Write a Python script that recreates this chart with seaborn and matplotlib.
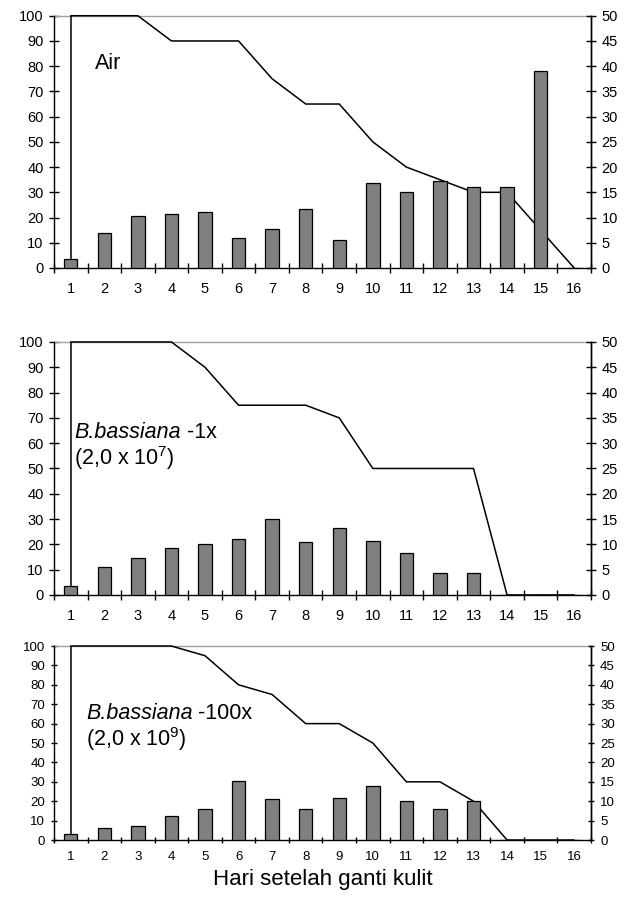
import matplotlib

matplotlib.use("Agg")
import matplotlib.pyplot as plt
import numpy as np
import seaborn as sns
from matplotlib.ticker import FixedLocator, NullFormatter

sns.set_style("white")
plt.rcParams["font.family"] = ["Liberation Sans", "DejaVu Sans"]
plt.rcParams["mathtext.fontset"] = "custom"
plt.rcParams["mathtext.rm"] = "Liberation Sans"
plt.rcParams["mathtext.it"] = "Liberation Sans:italic"
for key in ("text.color", "axes.labelcolor", "xtick.color", "ytick.color"):
    plt.rcParams[key] = "black"

days = list(range(1, 17))

# survival line (left axis, %)
survival_air = [100, 100, 100, 90, 90, 90, 75, 65, 65, 50, 40, 35, 30, 30, 15, 0]
survival_1x = [100, 100, 100, 100, 90, 75, 75, 75, 70, 50, 50, 50, 50, 0, 0, 0]
survival_100x = [100, 100, 100, 100, 95, 80, 75, 60, 60, 50, 30, 30, 20, 0, 0, 0]

# daily counts (right axis)
counts_air = [1.75, 7, 10.25, 10.75, 11, 6, 7.75, 11.75, 5.5, 16.75, 15, 17.25, 16, 16, 39, 0]
counts_1x = [1.75, 5.5, 7.25, 9.25, 10, 11, 15, 10.5, 13.25, 10.75, 8.25, 4.25, 4.25, 0, 0, 0]
counts_100x = [1.5, 3, 3.5, 6.25, 8, 15.25, 10.5, 8, 10.75, 14, 10, 8, 10, 0, 0, 0]

left_ticks = list(range(0, 101, 10))
right_ticks = list(range(0, 51, 5))


def draw_panel(ax, survival, counts, labels, tick_size, tick_len, label_pad):
    ax.vlines(days[0], 0, survival[0], color="black", linewidth=1.1, clip_on=False, zorder=3)
    sns.lineplot(x=days, y=survival, ax=ax, color="black", linewidth=1.1, clip_on=False, zorder=3)

    ax_r = ax.twinx()
    sns.barplot(
        x=days,
        y=counts,
        native_scale=True,
        ax=ax_r,
        color="#808080",
        saturation=1,
        edgecolor="black",
        linewidth=0.9,
        width=0.4,
    )

    for a in (ax, ax_r):
        a.set_xlim(0.5, 16.5)
        a.xaxis.set_major_locator(FixedLocator(np.arange(0.5, 17, 1)))
        a.xaxis.set_major_formatter(NullFormatter())
        a.xaxis.set_minor_locator(FixedLocator(days))
        a.set_xlabel("")
        a.set_ylabel("")
    for side in ("left", "right", "bottom"):
        ax.spines[side].set_color("black")
        ax.spines[side].set_linewidth(1.0)
    ax.spines["top"].set_color("#a0a0a0")
    ax.spines["top"].set_linewidth(1.0)
    ax.spines["top"].set_zorder(1)
    for side in ("left", "top", "bottom"):
        ax_r.spines[side].set_visible(False)
    ax_r.spines["right"].set_color("black")
    ax_r.spines["right"].set_linewidth(1.0)

    ax.set_ylim(0, 100)
    ax.set_yticks(left_ticks)
    ax_r.set_ylim(0, 50)
    ax_r.set_yticks(right_ticks)

    ax.set_xticks(days, minor=True)
    ax.set_xticklabels([str(d) for d in days], minor=True)
    ax.tick_params(axis="x", which="major", direction="inout", length=tick_len, width=1, bottom=True)
    ax.tick_params(axis="x", which="minor", length=0, pad=label_pad, labelsize=tick_size, bottom=True)
    ax.tick_params(axis="y", direction="inout", length=tick_len, width=1, left=True, labelsize=tick_size, pad=4)
    ax_r.tick_params(axis="y", direction="inout", length=tick_len, width=1, right=True, labelsize=tick_size, pad=4)
    ax_r.tick_params(axis="x", which="both", bottom=False, labelbottom=False)

    for x, y, italic, normal in labels:
        t = ax.text(x, y, italic, fontsize=15.5, va="bottom", ha="left", style="italic" if normal else "normal")
        if normal:
            ax.annotate(normal, xy=(1, 0), xycoords=t, fontsize=15.5, va="bottom", ha="left")
    return ax_r


fig = plt.figure(figsize=(6.32, 8.99), dpi=100)
ax1 = fig.add_axes([0.0854, 0.7019, 0.8497, 0.2806])
ax2 = fig.add_axes([0.0854, 0.3382, 0.8497, 0.2814])
ax3 = fig.add_axes([0.0854, 0.0656, 0.8497, 0.2158])

draw_panel(ax1, survival_air, counts_air, [(1.72, 77, "Air", None)], 10.5, 7, 10)
draw_panel(
    ax2,
    survival_1x,
    counts_1x,
    [(1.1, 60, "B.bassiana", " -1x"), (1.1, 48.5, r"(2,0 x 10$^{7}$)", None)],
    10.5,
    7,
    10,
)
draw_panel(
    ax3,
    survival_100x,
    counts_100x,
    [(1.45, 60, "B.bassiana", " -100x"), (1.45, 45, r"(2,0 x 10$^{9}$)", None)],
    9.5,
    5,
    8,
)
ax3.set_xlabel("Hari setelah ganti kulit", fontsize=16, labelpad=4)

fig.savefig("out.png", dpi=100)
